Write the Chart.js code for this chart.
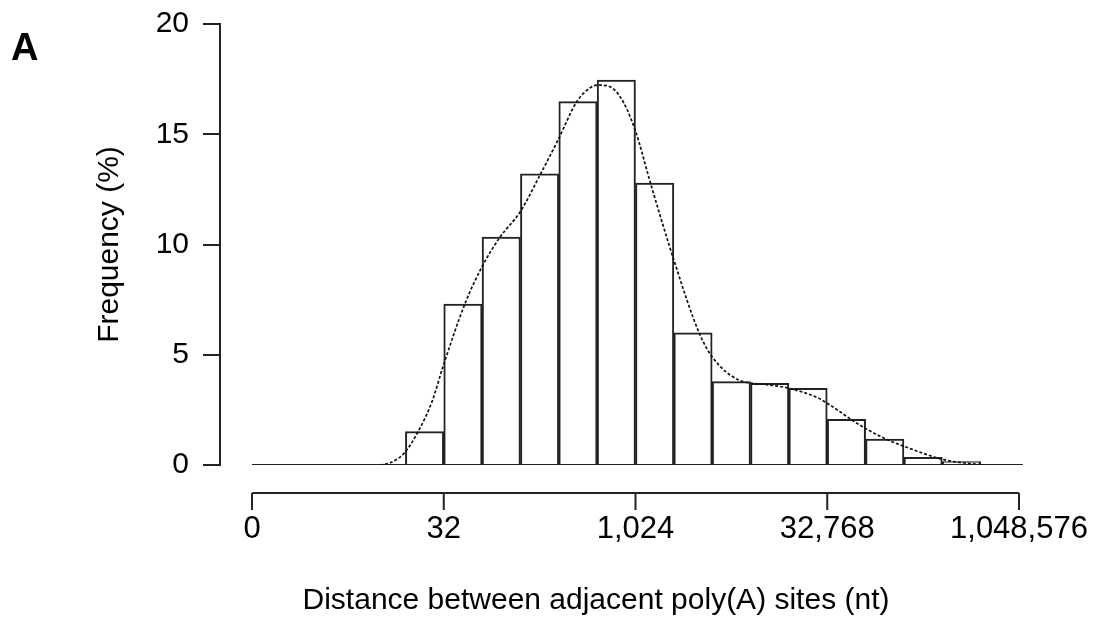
<!DOCTYPE html>
<html>
<head>
<meta charset="utf-8">
<script src="https://cdn.jsdelivr.net/npm/chart.js@4.4.1/dist/chart.umd.min.js"></script>
<style>
  body { margin: 0; background: #fff; }
  #wrap { position: relative; width: 1093px; height: 621px; }
  #panel { position: absolute; left: 11px; top: 28px; font: bold 38px "Liberation Sans", Arial, sans-serif; line-height: 38px; color: #000; }
</style>
</head>
<body>
<div id="wrap">
  <canvas id="chart"></canvas>
  <div id="panel">A</div>
</div>
<script>
// Histogram bins on a log2 axis (centre of each bin, in log2 nt)
const binCenters = [4.5, 5.5, 6.5, 7.5, 8.5, 9.5, 10.5, 11.5, 12.5, 13.5, 14.5, 15.5, 16.5, 17.5, 18.5];
const frequency = [1.51, 7.3, 10.34, 13.2, 16.48, 17.46, 12.78, 5.99, 3.78, 3.7, 3.48, 2.07, 1.17, 0.35, 0.15];

// Density curve
const densityX = [3.34, 3.6, 3.97, 4.33, 4.7, 4.98, 5.55, 6.0, 6.47, 7.0, 7.51, 7.98, 8.47, 8.81, 9.0, 9.26, 9.6, 9.99, 10.38, 11.0, 11.66, 12.0, 12.7, 13.4, 14.0, 14.76, 15.07, 15.85, 16.5, 17.03, 18.07, 19.1];
const densityY = [0, 0.1, 0.54, 1.51, 2.9, 4.46, 7.3, 9.0, 10.34, 11.5, 13.15, 14.74, 16.48, 17.1, 17.23, 17.2, 16.7, 15.2, 12.85, 9.3, 5.99, 4.9, 3.85, 3.65, 3.48, 3.04, 2.72, 1.81, 1.2, 0.83, 0.23, 0];

// Axis ticks
const xTickValues = [0, 5, 10, 15, 20];
const xTickLabels = ['0', '32', '1,024', '32,768', '1,048,576'];
const yTickValues = [0, 5, 10, 15, 20];

const ink = '#222';
Chart.defaults.font.family = '"Liberation Sans", Arial, sans-serif';
Chart.defaults.font.size = 30;
Chart.defaults.color = '#000';

// bottom axis is drawn offset below the histogram baseline
const offsetAxis = {
    id: 'offsetAxis',
    afterDraw(chart) {
        const ctx = chart.ctx;
        const x = chart.scales.x;
        const y0 = chart.chartArea.bottom + 28;
        ctx.save();
        ctx.strokeStyle = ink;
        ctx.lineWidth = 2;
        ctx.beginPath();
        ctx.moveTo(x.getPixelForValue(xTickValues[0]), y0);
        ctx.lineTo(x.getPixelForValue(xTickValues[xTickValues.length - 1]), y0);
        xTickValues.forEach(v => {
            const px = x.getPixelForValue(v);
            ctx.moveTo(px, y0);
            ctx.lineTo(px, y0 + 17);
        });
        ctx.stroke();
        ctx.restore();
    }
};

new Chart(document.getElementById('chart'), {
    type: 'bar',
    data: {
        datasets: [{
            type: 'line',
            data: densityX.map((v, i) => ({ x: v, y: densityY[i] })),
            borderColor: '#111',
            borderWidth: 1.7,
            borderDash: [3, 2],
            pointRadius: 0,
            cubicInterpolationMode: 'monotone',
            order: 0
        }, {
            type: 'line',
            data: [{ x: 0, y: 0 }, { x: 20.1, y: 0 }],
            borderColor: ink,
            borderWidth: 2,
            pointRadius: 0,
            order: 0
        }, {
            data: binCenters.map((v, i) => ({ x: v, y: frequency[i] })),
            backgroundColor: '#fff',
            borderColor: ink,
            borderWidth: 2,
            barPercentage: 1,
            categoryPercentage: 1,
            order: 1
        }]
    },
    options: {
        responsive: true,
        maintainAspectRatio: false,
        devicePixelRatio: 1,
        animation: false,
        layout: { padding: { left: 100, right: 1, top: 24, bottom: 0 } },
        plugins: {
            legend: { display: false },
            tooltip: { enabled: false },
            title: {
                display: true,
                position: 'bottom',
                text: 'Distance between adjacent poly(A) sites (nt)',
                font: { size: 30, weight: 'normal' },
                padding: { top: 0, bottom: 2 }
            }
        },
        scales: {
            x: {
                type: 'linear',
                offset: false,
                min: -0.8344,
                max: 21.904,
                afterBuildTicks: s => { s.ticks = xTickValues.map(v => ({ value: v })); },
                afterFit: s => { s.height = 118; s.paddingLeft = 0; s.paddingRight = 0; },
                grid: { display: true, offset: false, drawOnChartArea: false, drawTicks: true, tickLength: 46, color: 'rgba(0,0,0,0)' },
                border: { display: false },
                ticks: {
                    padding: 0,
                    maxRotation: 0,
                    font: { size: 31 },
                    callback: v => xTickLabels[xTickValues.indexOf(v)]
                }
            },
            y: {
                min: 0,
                max: 20,
                afterBuildTicks: s => { s.ticks = yTickValues.map(v => ({ value: v })); },
                afterFit: s => { s.width = 120; s.paddingTop = 0; s.paddingBottom = 0; },
                grid: { drawOnChartArea: false, tickLength: 17, color: ink, lineWidth: 2 },
                border: { display: true, color: ink, width: 2 },
                ticks: { padding: 14 },
                title: {
                    display: true,
                    text: 'Frequency (%)',
                    font: { size: 30 },
                    padding: { top: -8, bottom: 0 }
                }
            }
        }
    },
    plugins: [offsetAxis]
});
</script>
</body>
</html>
